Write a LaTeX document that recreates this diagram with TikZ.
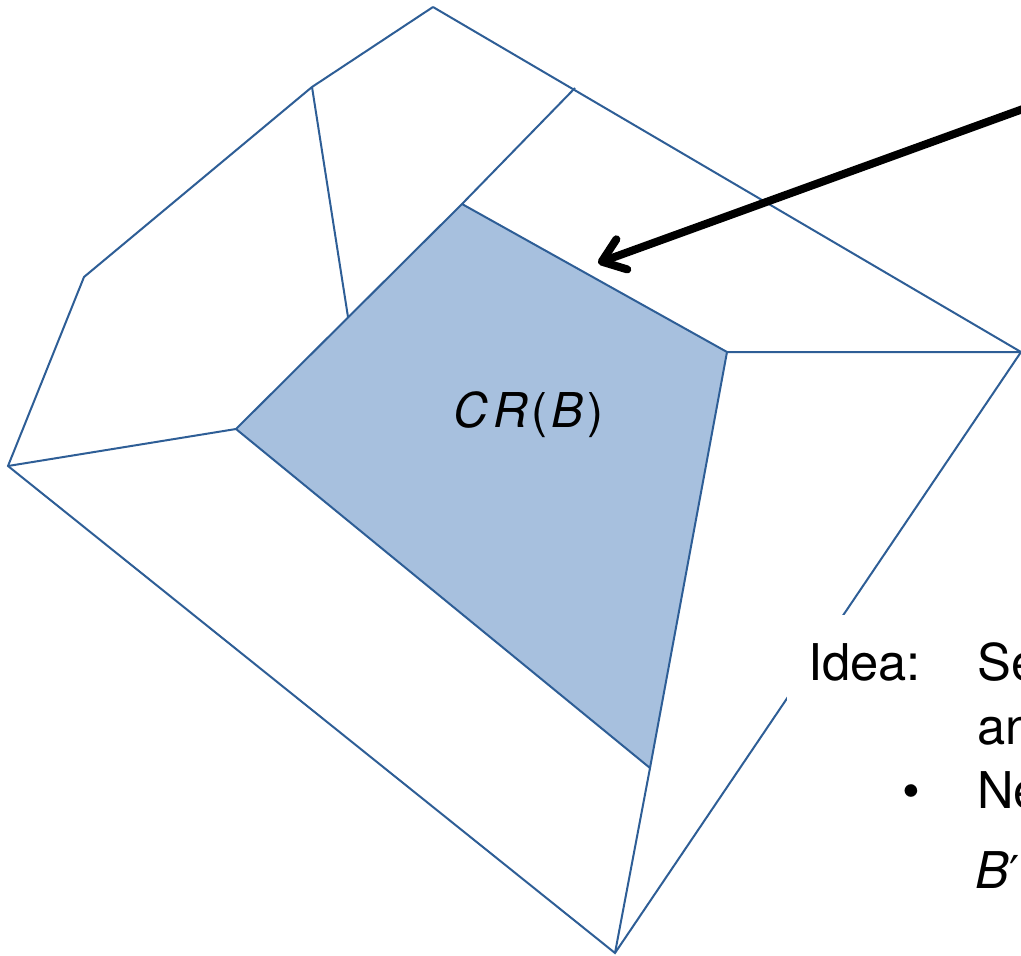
\documentclass[tikz,border=0pt]{standalone}
\usepackage{fontspec}
\setsansfont{TeX Gyre Heros}
\newfontfamily\primefont{DejaVu Sans}
\usetikzlibrary{arrows.meta}
\definecolor{edgeblue}{RGB}{46,94,150}
\definecolor{cellfill}{RGB}{167,192,222}

\begin{document}
\begin{tikzpicture}[font=\sffamily,x=0.75pt,y=-0.75pt,
  edge/.style={edgeblue,line width=1.5pt},
  txt/.style={anchor=base west,inner sep=0pt,font=\sffamily\fontsize{38}{46}\selectfont}]
\useasboundingbox (0,0) rectangle (1021,956);
\foreach \n/\x/\y in {top/433/7,tl/312/87,lone/84/277,lft/8/466,bot/615/953,rgt/1021/352,tm/575/88,mid/348/317,
  ca/462/204,cb/727/352,cc/650/768,cd/236/429}
  \coordinate (\n) at (\x,\y);
\fill[cellfill] (ca)--(cb)--(cc)--(cd)--cycle;
\draw[edge] (top)--(tl)--(lone)--(lft)--(bot)--(rgt)--(top);
\draw[edge] (tl)--(mid);
\draw[edge] (tm)--(ca)--(cb)--(cc)--(cd)--(ca);
\draw[edge] (cd)--(lft) (cb)--(rgt) (cc)--(bot);
\node[anchor=base west,inner sep=0pt,font=\sffamily\fontsize{36}{42}\selectfont] (cr) at (453,427)
  {{\itshape C\kern4pt R}\kern3pt(\kern2.5pt{\itshape B}\kern3pt)};
\fill[white] (787,615) rectangle (1021,956);
\node[txt] (idea) at (808,680) {Idea:};
\node[txt] (sel) at (977,680) {Se};
\node[txt] (and) at (977,744) {an};
\node[txt] (dot) at (902,808) {\textbullet};
\node[txt] (new) at (977,808) {Ne};
\node[txt] (bp) at (975,888) {\textit{B}{\primefont\fontsize{34}{40}\selectfont ′}};
\coordinate (tail) at (1045,101);
\coordinate (tip) at (598,263);
\draw[line width=6pt,line cap=round,-{Straight Barb[length=16pt,width=24pt,line cap=round,line join=round]}] (tail)--(tip);
\end{tikzpicture}
\end{document}
